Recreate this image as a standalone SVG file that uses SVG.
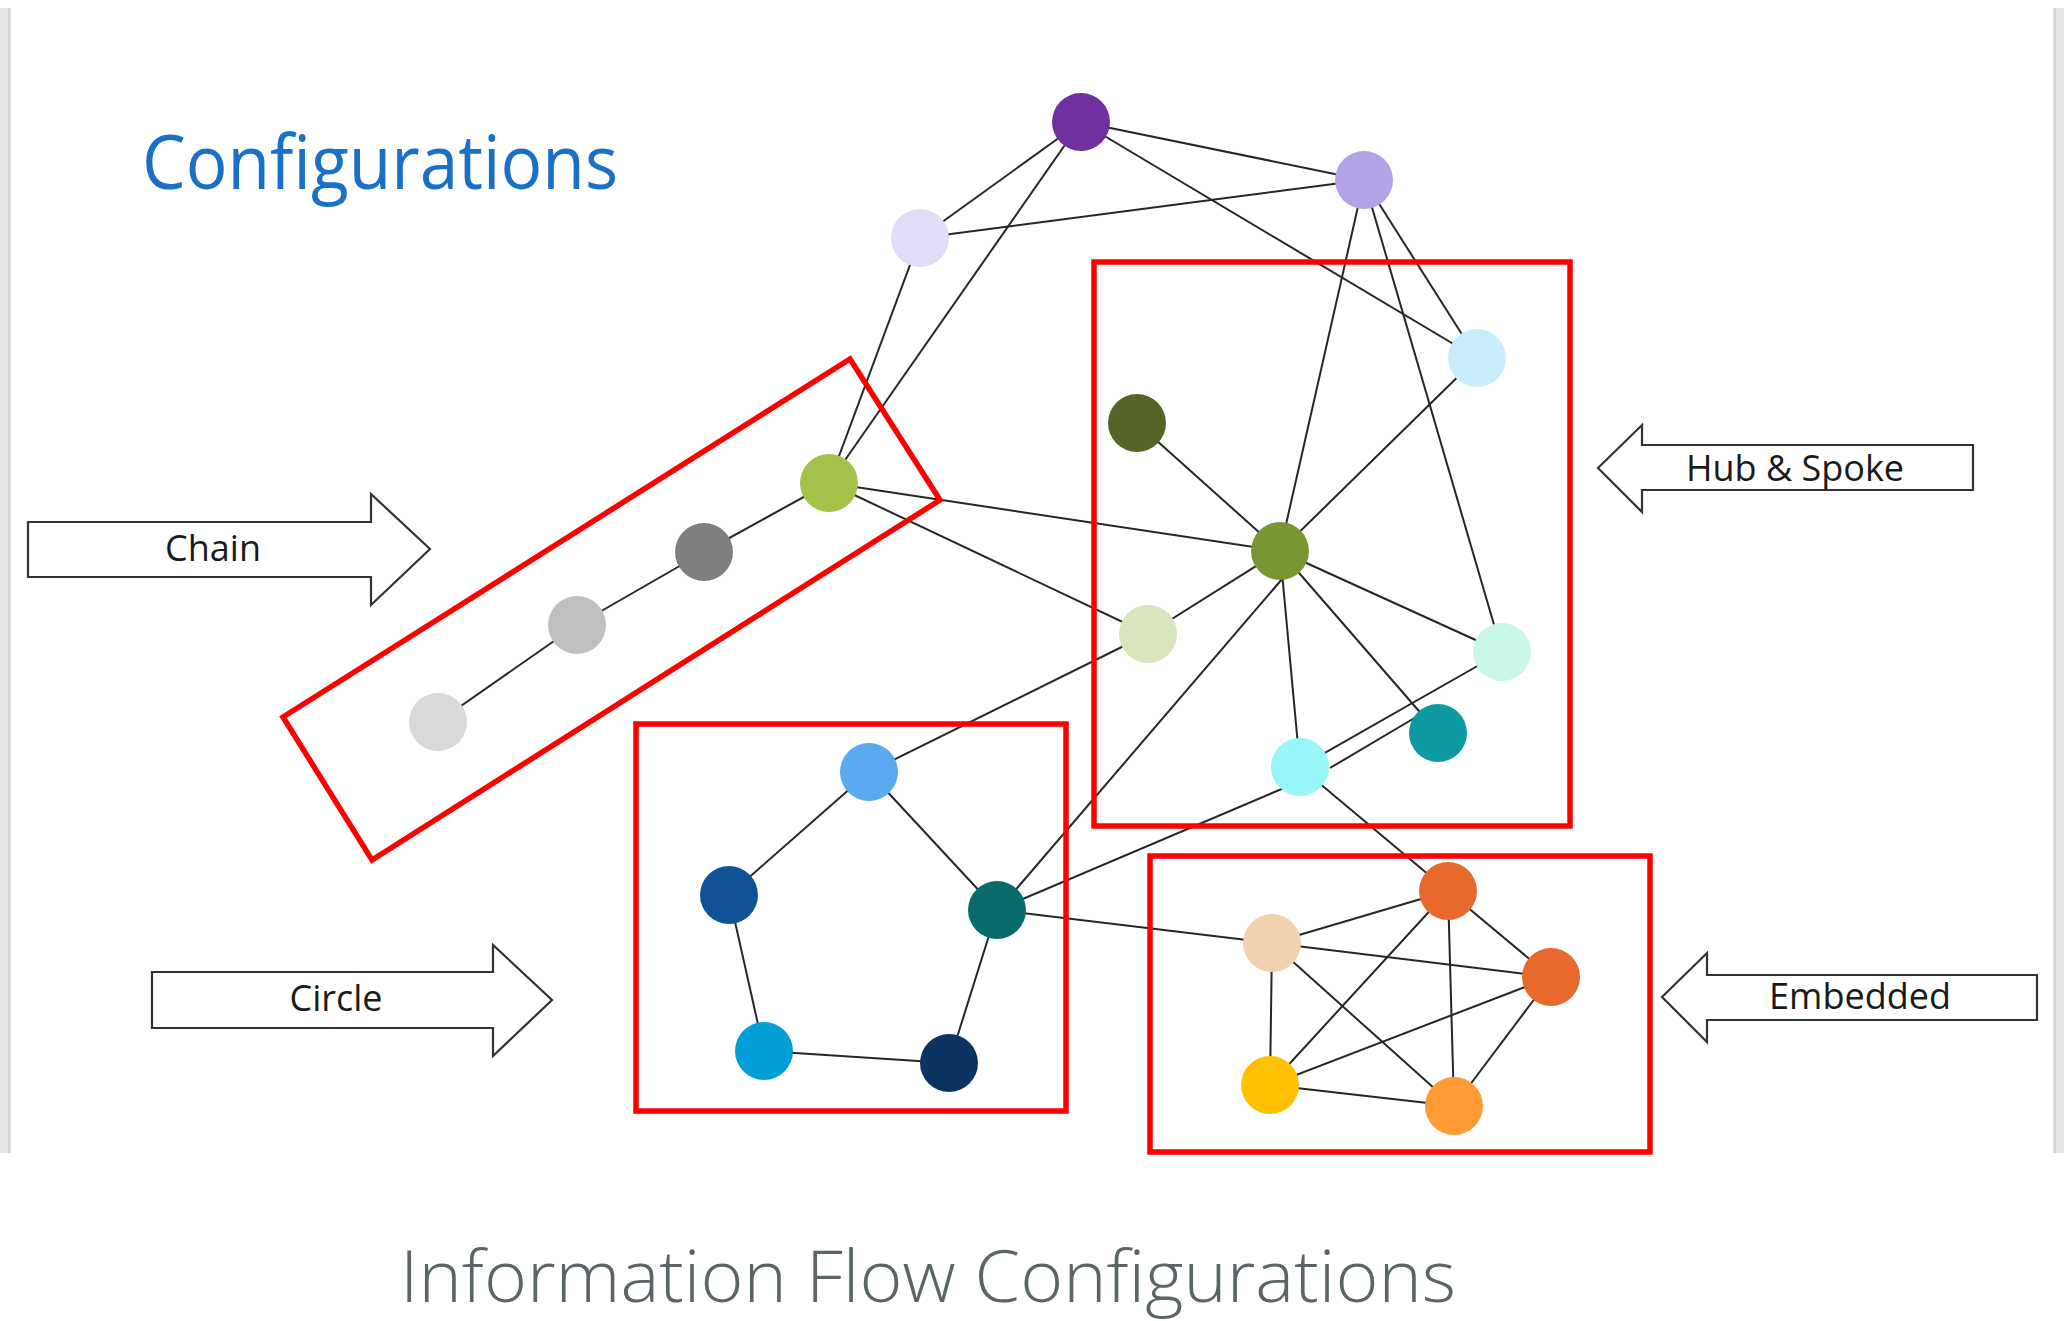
<svg xmlns="http://www.w3.org/2000/svg" width="2072" height="1321" viewBox="0 0 2072 1321">
<style>
.edge{stroke:#262626;stroke-width:2;fill:none}
.frame{fill:none;stroke:#ff0000;stroke-width:5.5}
.arrow{fill:#ffffff;stroke:#333333;stroke-width:2.2;stroke-linejoin:miter}
.lbl{font-family:"Open Sans","Noto Sans",sans-serif;font-size:36px;fill:#1a1a1a;text-anchor:middle}
.band{fill:#e5e5e5}
</style>
<rect x="0" y="0" width="2072" height="1321" fill="#ffffff"/>
<rect class="band" x="0" y="8" width="11" height="1145"/>
<line x1="9" y1="8" x2="9" y2="1153" stroke="#d2d2d2" stroke-width="2"/>
<rect class="band" x="2053" y="8" width="11" height="1145"/>
<line x1="2055" y1="8" x2="2055" y2="1153" stroke="#d2d2d2" stroke-width="2"/>

<text id="title" x="142" y="189" font-family="'Open Sans','Noto Sans',sans-serif" font-size="75" fill="#1a6fc6" textLength="476" lengthAdjust="spacingAndGlyphs">Configurations</text>

<g id="connectors">
<line class="edge" x1="1081" y1="122" x2="920" y2="238"/>
<line class="edge" x1="1081" y1="122" x2="1364" y2="180"/>
<line class="edge" x1="1081" y1="122" x2="829" y2="483"/>
<line class="edge" x1="1081" y1="122" x2="1477" y2="358"/>
<line class="edge" x1="920" y1="238" x2="1364" y2="180"/>
<line class="edge" x1="920" y1="238" x2="829" y2="483"/>
<line class="edge" x1="1364" y1="180" x2="1280" y2="551"/>
<line class="edge" x1="1364" y1="180" x2="1477" y2="358"/>
<line class="edge" x1="1364" y1="180" x2="1502" y2="652"/>
<line class="edge" x1="1477" y1="358" x2="1280" y2="551"/>
<line class="edge" x1="1137" y1="423" x2="1280" y2="551"/>
<line class="edge" x1="829" y1="483" x2="1280" y2="551"/>
<line class="edge" x1="829" y1="483" x2="1148" y2="634"/>
<line class="edge" x1="829" y1="483" x2="704" y2="552"/>
<line class="edge" x1="704" y1="552" x2="577" y2="625"/>
<line class="edge" x1="577" y1="625" x2="438" y2="722"/>
<line class="edge" x1="1280" y1="551" x2="1148" y2="634"/>
<line class="edge" x1="1280" y1="551" x2="1502" y2="652"/>
<line class="edge" x1="1280" y1="551" x2="1438" y2="733"/>
<line class="edge" x1="1280" y1="551" x2="1300" y2="767"/>
<line class="edge" x1="1283" y1="578" x2="1000" y2="908"/>
<line class="edge" x1="1148" y1="634" x2="869" y2="772"/>
<line class="edge" x1="1300" y1="767" x2="1502" y2="652"/>
<line class="edge" x1="1330" y1="768" x2="1423" y2="713"/>
<line class="edge" x1="1284" y1="788" x2="997" y2="910"/>
<line class="edge" x1="1300" y1="767" x2="1448" y2="891"/>
<line class="edge" x1="997" y1="910" x2="1272" y2="943"/>
<line class="edge" x1="869" y1="772" x2="729" y2="895"/>
<line class="edge" x1="869" y1="772" x2="997" y2="910"/>
<line class="edge" x1="729" y1="895" x2="764" y2="1051"/>
<line class="edge" x1="764" y1="1051" x2="949" y2="1063"/>
<line class="edge" x1="949" y1="1063" x2="997" y2="910"/>
<line class="edge" x1="1272" y1="943" x2="1448" y2="891"/>
<line class="edge" x1="1272" y1="943" x2="1551" y2="977"/>
<line class="edge" x1="1272" y1="943" x2="1270" y2="1085"/>
<line class="edge" x1="1272" y1="943" x2="1454" y2="1106"/>
<line class="edge" x1="1448" y1="891" x2="1551" y2="977"/>
<line class="edge" x1="1448" y1="891" x2="1270" y2="1085"/>
<line class="edge" x1="1448" y1="891" x2="1454" y2="1106"/>
<line class="edge" x1="1551" y1="977" x2="1270" y2="1085"/>
<line class="edge" x1="1551" y1="977" x2="1454" y2="1106"/>
<line class="edge" x1="1270" y1="1085" x2="1454" y2="1106"/>
</g>

<g id="frames">
<polygon id="frame-chain" class="frame" points="850,359 940,500 372,860 283,717"/>
<rect id="frame-hub" class="frame" x="1094" y="262" width="476" height="564"/>
<rect id="frame-circle" class="frame" x="636" y="724" width="430" height="387"/>
<rect id="frame-embedded" class="frame" x="1150" y="856" width="500" height="296"/>
</g>

<g id="node-purple"><circle cx="1081" cy="122" r="29" fill="#7030a0"/></g>
<g id="node-lavender"><circle cx="1364" cy="180" r="29" fill="#b3a2e6"/></g>
<g id="node-lavender-light"><circle cx="920" cy="238" r="29" fill="#e2dcf6"/></g>
<g id="node-sky"><circle cx="1477" cy="358" r="29" fill="#c8eefc"/></g>
<g id="node-olive"><circle cx="1137" cy="423" r="29" fill="#556527"/></g>
<g id="node-hub"><circle cx="1280" cy="551" r="29" fill="#7a9634"/></g>
<g id="node-chain-1"><circle cx="829" cy="483" r="29" fill="#a4c24a"/></g>
<g id="node-chain-2"><circle cx="704" cy="552" r="29" fill="#7f7f7f"/></g>
<g id="node-chain-3"><circle cx="577" cy="625" r="29" fill="#bfbfbf"/></g>
<g id="node-chain-4"><circle cx="438" cy="722" r="29" fill="#d9d9d9"/></g>
<g id="node-pale-green"><circle cx="1148" cy="634" r="29" fill="#d8e4bc"/></g>
<g id="node-mint"><circle cx="1502" cy="652" r="29" fill="#c8f7e8"/></g>
<g id="node-teal"><circle cx="1438" cy="733" r="29" fill="#0e9aa2"/></g>
<g id="node-cyan"><circle cx="1300" cy="767" r="29" fill="#98f5fa"/></g>
<g id="node-circle-top"><circle cx="869" cy="772" r="29" fill="#5aa9ef"/></g>
<g id="node-circle-left"><circle cx="729" cy="895" r="29" fill="#0f5396"/></g>
<g id="node-circle-right"><circle cx="997" cy="910" r="29" fill="#0a6b6c"/></g>
<g id="node-circle-bl"><circle cx="764" cy="1051" r="29" fill="#029ed6"/></g>
<g id="node-circle-br"><circle cx="949" cy="1063" r="29" fill="#0b3462"/></g>
<g id="node-emb-top"><circle cx="1448" cy="891" r="29" fill="#e8692c"/></g>
<g id="node-emb-left"><circle cx="1272" cy="943" r="29" fill="#f1d1ae"/></g>
<g id="node-emb-right"><circle cx="1551" cy="977" r="29" fill="#e8692c"/></g>
<g id="node-emb-bl"><circle cx="1270" cy="1085" r="29" fill="#ffc000"/></g>
<g id="node-emb-br"><circle cx="1454" cy="1106" r="29" fill="#ff9a35"/></g>

<g id="arrow-chain">
<polygon class="arrow" points="28,522 371,522 371,494 430,549 371,605 371,577 28,577"/>
<text class="lbl" x="213" y="561">Chain</text>
</g>
<g id="arrow-circle">
<polygon class="arrow" points="152,972 493,972 493,945 552,1000 493,1056 493,1028 152,1028"/>
<text class="lbl" x="336" y="1011">Circle</text>
</g>
<g id="arrow-hub">
<polygon class="arrow" points="1973,445 1642,445 1642,425 1598,468 1642,512 1642,490 1973,490"/>
<text class="lbl" x="1795" y="481">Hub &amp; Spoke</text>
</g>
<g id="arrow-embedded">
<polygon class="arrow" points="2037,975 1707,975 1707,953 1662,997 1707,1042 1707,1020 2037,1020"/>
<text class="lbl" x="1860" y="1009">Embedded</text>
</g>

<text id="caption" x="400" y="1302" font-family="'Open Sans','Noto Sans',sans-serif" font-weight="300" font-size="72" fill="#5b6466" textLength="1056" lengthAdjust="spacingAndGlyphs">Information Flow Configurations</text>
</svg>
